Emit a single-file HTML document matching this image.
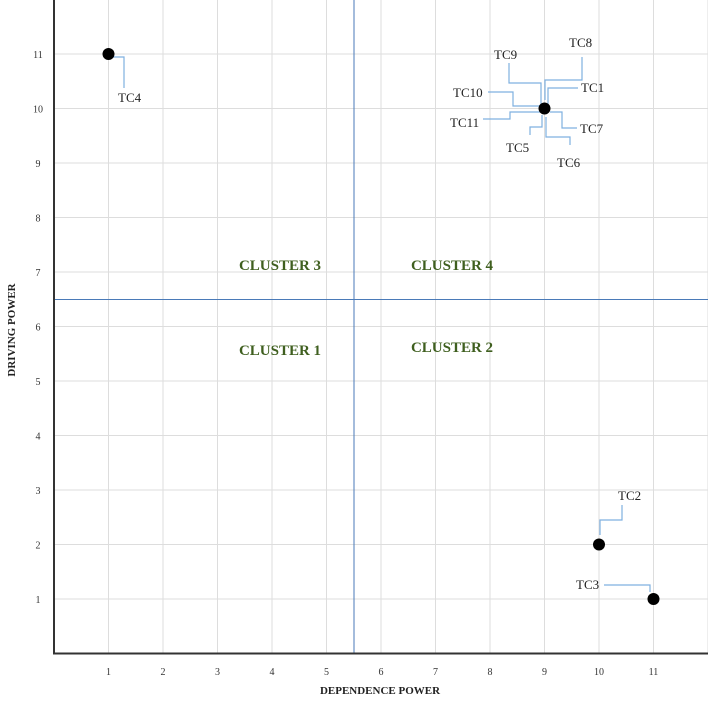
<!DOCTYPE html>
<html><head><meta charset="utf-8"><style>
html,body{margin:0;padding:0;background:#fff}
svg{display:block;font-family:"Liberation Serif",serif}
</style></head><body>
<svg id="chart" width="708" height="701" xmlns="http://www.w3.org/2000/svg">
<g id="grid"></g>
<g id="ticks"></g>
<line x1="354" y1="0" x2="354" y2="653.5" stroke="#4a7ab8" stroke-width="1"/>
<line x1="54" y1="299.5" x2="708" y2="299.5" stroke="#4a7ab8" stroke-width="1"/>
<polyline points="54,0 54,653.5 708,653.5" fill="none" stroke="#333" stroke-width="2"/>
<g font-weight="bold" font-size="15" fill="#3f5f1f" text-anchor="middle">
<text x="280" y="270">CLUSTER 3</text>
<text x="452" y="270">CLUSTER 4</text>
<text x="280" y="355">CLUSTER 1</text>
<text x="452" y="352">CLUSTER 2</text>
</g>
<text x="380" y="694" font-size="11" font-weight="bold" text-anchor="middle" fill="#222">DEPENDENCE POWER</text>
<text transform="translate(15,330) rotate(-90)" font-size="11" font-weight="bold" text-anchor="middle" fill="#222">DRIVING POWER</text>
<g id="leaders" fill="none" stroke="#7fb0e0" stroke-width="1.2">
<polyline points="545,100 545,80 582,80 582,57"/>
<polyline points="541,106 541,83 509,83 509,63"/>
<polyline points="548,105 548,88 578,88"/>
<polyline points="540,106 513,106 513,92 488,92"/>
<polyline points="540,112 510,112 510,119 483,119"/>
<polyline points="550,112 562,112 562,128 577,128"/>
<polyline points="542,115 542,127 530,127 530,135"/>
<polyline points="546,117 546,137 570,137 570,145"/>
<polyline points="112,57 124,57 124,88"/>
<polyline points="600,535 600,520 622,520 622,505"/>
<polyline points="650,592 650,585 604,585"/>
</g>
<g font-size="13" fill="#222">
<text x="569" y="47">TC8</text>
<text x="494" y="59">TC9</text>
<text x="581" y="92">TC1</text>
<text x="453" y="97">TC10</text>
<text x="450" y="127">TC11</text>
<text x="580" y="133">TC7</text>
<text x="506" y="152">TC5</text>
<text x="557" y="167">TC6</text>
<text x="118" y="102">TC4</text>
<text x="618" y="500">TC2</text>
<text x="576" y="589">TC3</text>
</g>
<g id="points"></g>
</svg>
<script>
const xTicks=[1,2,3,4,5,6,7,8,9,10,11];
const yTicks=[1,2,3,4,5,6,7,8,9,10,11];
const pointNames=["TC4","TC1-TC11","TC2","TC3"];
const depValues=[1,9,10,11];
const drvValues=[11,10,2,1];
const X=v=>54+54.5*v, Y=v=>653.5-54.5*v;
const ns="http://www.w3.org/2000/svg";
const grid=document.getElementById('grid'),ticks=document.getElementById('ticks'),pts=document.getElementById('points');
function mk(tag,attrs,parent){const e=document.createElementNS(ns,tag);for(const k in attrs)e.setAttribute(k,attrs[k]);parent.appendChild(e);return e;}
xTicks.forEach(v=>{
 const l=mk('line',{x1:X(v),x2:X(v),y1:0,y2:653.5,stroke:'#ddd','stroke-width':1},grid);
 
 
 const t=mk('text',{x:X(v),y:675,'font-size':10,'text-anchor':'middle',fill:'#333'},ticks);
 t.textContent=v;
 
 
});
mk('line',{x1:X(12),x2:X(12),y1:0,y2:653.5,stroke:'#ddd'},grid);
yTicks.forEach(v=>{
 const l=mk('line',{x1:54,x2:708,y1:Y(v),y2:Y(v),stroke:'#ddd','stroke-width':1},grid);
 
 
 const t=mk('text',{x:38,y:Y(v)+4,'font-size':10,'text-anchor':'middle',fill:'#333'},ticks);
 t.textContent=v;
 
 
});
depValues.forEach((d,i)=>{
 const c=mk('circle',{cx:X(d),cy:Y(drvValues[i]),r:6,fill:'#000'},pts);
 
 
});
</script>
</body></html>
